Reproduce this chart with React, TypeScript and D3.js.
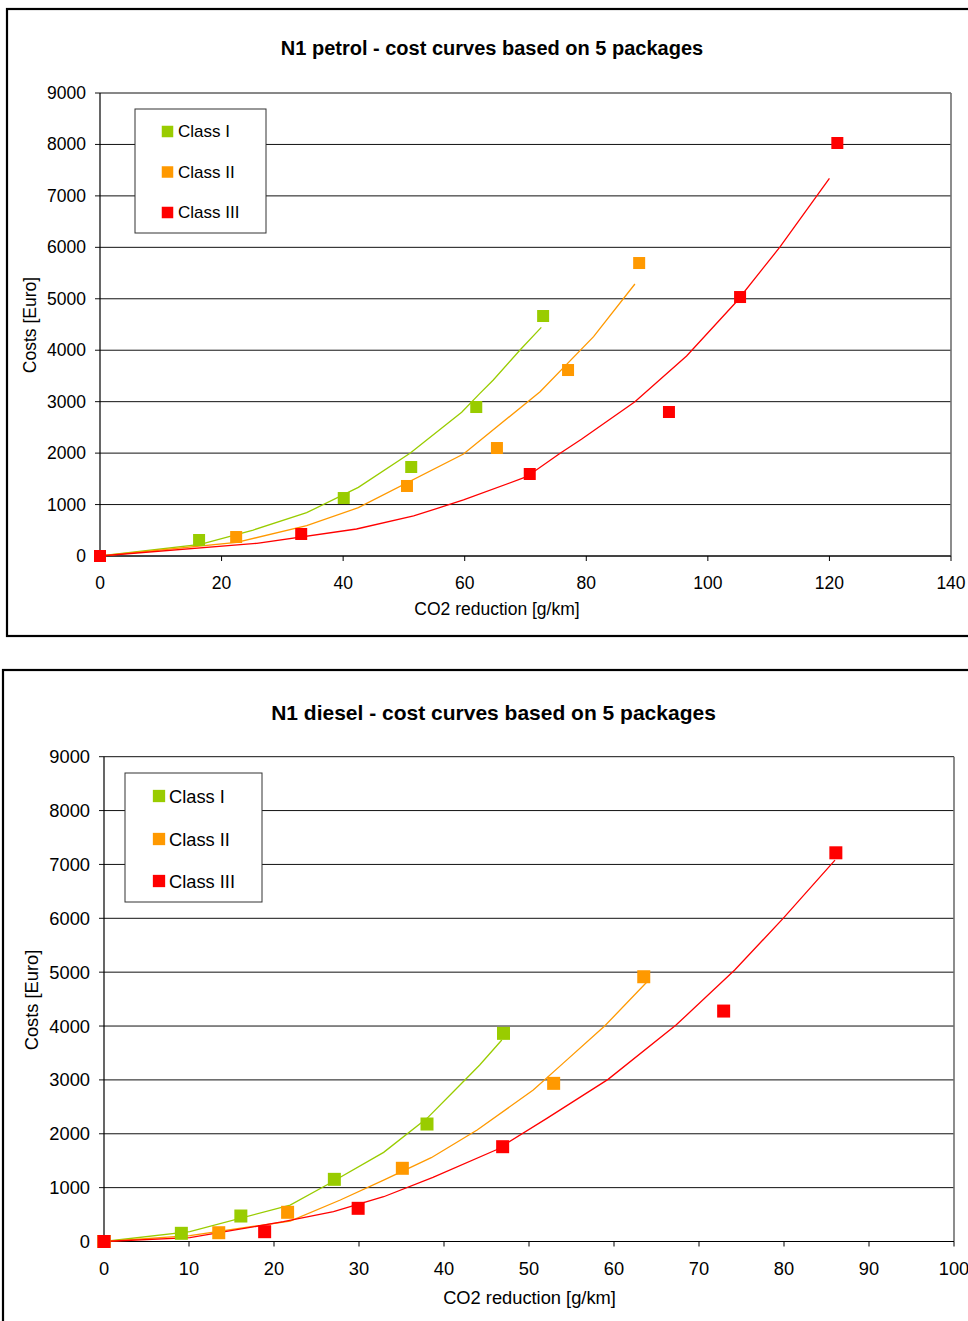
import React from "react";
import * as d3 from "d3";

// ---------- Data: N1 petrol ----------
const seriesNames = ["Class I", "Class II", "Class III"];
const seriesColors = ["#99CC00", "#FF9900", "#FF0000"];

const petrolClass1X = [0, 16.3, 40.1, 51.2, 61.9, 72.9];
const petrolClass1Y = [0, 311, 1127, 1730, 2896, 4665];
const petrolClass2X = [0, 22.4, 50.5, 65.3, 77.0, 88.7];
const petrolClass2Y = [0, 369, 1361, 2099, 3615, 5695];
const petrolClass3X = [0, 33.1, 70.7, 93.6, 105.3, 121.3];
const petrolClass3Y = [0, 428, 1594, 2799, 5034, 8028];

const petrolTrend1X = [0, 16.5, 25.2, 34.0, 42.5, 51.0, 59.5, 62.5, 64.7, 69.1, 72.6];
const petrolTrend1Y = [0, 227, 505, 842, 1335, 1996, 2793, 3162, 3421, 4004, 4445];
const petrolTrend2X = [0, 22.5, 34.0, 42.5, 59.8, 72.4, 81.2, 88.0];
const petrolTrend2Y = [0, 266, 589, 939, 1983, 3194, 4263, 5287];
const petrolTrend3X = [0, 25.8, 42.2, 51.6, 59.8, 70.2, 75.7, 79.2, 88.0, 96.5, 104.7, 111.9, 120.0];
const petrolTrend3Y = [0, 247, 525, 778, 1089, 1541, 1996, 2268, 2999, 3888, 4943, 6012, 7342];

// ---------- Data: N1 diesel ----------
const dieselClass1X = [0, 9.1, 16.1, 27.1, 38.0, 47.0];
const dieselClass1Y = [0, 152, 473, 1154, 2181, 3864];
const dieselClass2X = [0, 13.5, 21.6, 35.1, 52.9, 63.5];
const dieselClass2Y = [0, 163, 542, 1359, 2936, 4915];
const dieselClass3X = [0, 18.9, 29.9, 46.9, 72.9, 86.1];
const dieselClass3Y = [0, 182, 616, 1760, 4278, 7216];

const dieselTrend1X = [0, 10.1, 21.9, 26.2, 32.9, 38.0, 41.3, 44.2, 46.8];
const dieselTrend1Y = [0, 182, 677, 1049, 1655, 2286, 2812, 3276, 3740];
const dieselTrend2X = [0, 10.1, 21.9, 27.8, 32.9, 38.5, 43.9, 50.5, 54.0, 58.9, 63.9];
const dieselTrend2Y = [0, 108, 380, 770, 1141, 1556, 2069, 2812, 3307, 4000, 4822];
const dieselTrend3X = [0, 10.1, 21.1, 27.0, 32.9, 38.7, 46.1, 52.1, 59.3, 67.3, 74.2, 79.9, 86.0];
const dieselTrend3Y = [0, 71, 367, 553, 831, 1191, 1698, 2286, 3010, 4018, 5039, 5999, 7081];

const yTicks = [0, 1000, 2000, 3000, 4000, 5000, 6000, 7000, 8000, 9000];
const petrolXTicks = [0, 20, 40, 60, 80, 100, 120, 140];
const dieselXTicks = [0, 10, 20, 30, 40, 50, 60, 70, 80, 90, 100];

const FONT = "'Liberation Sans', Arial, Helvetica, sans-serif";

type Pt = [number, number];
const zip = (xs: number[], ys: number[]): Pt[] => xs.map((x, i) => [x, ys[i]]);

interface ChartProps {
  title: string;
  frame: { x: number; y: number; w: number; h: number };
  plot: { left: number; right: number; top: number; bottom: number };
  xMax: number;
  xTicks: number[];
  points: Pt[][];
  trends: Pt[][];
  titlePos: [number, number];
  titleSize: number;
  tickSize: number;
  labelSize: number;
  xLabelPos: [number, number];
  yLabelPos: [number, number];
  legend: { x: number; y: number; w: number; h: number; mx: number; tx: number; rows: number[]; ms: number; fs: number };
  markerSize: number;
}

function Chart(p: ChartProps) {
  const x = d3.scaleLinear().domain([0, p.xMax]).range([p.plot.left, p.plot.right]);
  const y = d3.scaleLinear().domain([0, 9000]).range([p.plot.bottom, p.plot.top]);
  const line = d3
    .line<Pt>()
    .x((d) => x(d[0]))
    .y((d) => y(d[1]));
  const ms = p.markerSize;
  return (
    <g>
      <rect x={p.frame.x} y={p.frame.y} width={p.frame.w} height={p.frame.h} fill="white" stroke="black" strokeWidth={2.2} />
      <text
        x={p.titlePos[0]}
        y={p.titlePos[1]}
        textAnchor="middle"
        dominantBaseline="central"
        fontFamily={FONT}
        fontWeight="bold"
        fontSize={p.titleSize}
      >
        {p.title}
      </text>
      {yTicks.map((t) => (
        <g key={"g" + t}>
          <line x1={p.plot.left - 5} x2={p.plot.right} y1={y(t)} y2={y(t)} stroke="#111" strokeWidth={1} />
          <text
            x={p.plot.left - 14}
            y={y(t)}
            textAnchor="end"
            dominantBaseline="central"
            fontFamily={FONT}
            fontSize={p.tickSize}
          >
            {t}
          </text>
        </g>
      ))}
      <line x1={p.plot.right} x2={p.plot.right} y1={p.plot.top} y2={p.plot.bottom} stroke="#707070" strokeWidth={1.6} />
      <line x1={p.plot.left} x2={p.plot.left} y1={p.plot.top} y2={p.plot.bottom} stroke="black" strokeWidth={1.2} />
      <line x1={p.plot.left} x2={p.plot.right} y1={p.plot.bottom} y2={p.plot.bottom} stroke="black" strokeWidth={1.2} />
      {p.xTicks.map((t) => (
        <g key={"x" + t}>
          <line x1={x(t)} x2={x(t)} y1={p.plot.bottom} y2={p.plot.bottom + 5} stroke="black" strokeWidth={1} />
          <text
            x={x(t)}
            y={p.plot.bottom + 27}
            textAnchor="middle"
            dominantBaseline="central"
            fontFamily={FONT}
            fontSize={p.tickSize}
          >
            {t}
          </text>
        </g>
      ))}
      <text
        x={p.xLabelPos[0]}
        y={p.xLabelPos[1]}
        textAnchor="middle"
        dominantBaseline="central"
        fontFamily={FONT}
        fontSize={p.labelSize}
      >
        CO2 reduction [g/km]
      </text>
      <text
        transform={`translate(${p.yLabelPos[0]},${p.yLabelPos[1]}) rotate(-90)`}
        textAnchor="middle"
        dominantBaseline="central"
        fontFamily={FONT}
        fontSize={p.labelSize}
      >
        Costs [Euro]
      </text>
      {p.trends.map((tr, i) => (
        <path key={"t" + i} d={line(tr) || ""} fill="none" stroke={seriesColors[i]} strokeWidth={1.3} />
      ))}
      {p.points.map((pts, i) =>
        pts.map((d, j) => (
          <rect
            key={"m" + i + "-" + j}
            x={x(d[0]) - ms / 2}
            y={y(d[1]) - ms / 2}
            width={ms}
            height={ms}
            fill={seriesColors[i]}
          />
        ))
      )}
      <rect x={p.legend.x} y={p.legend.y} width={p.legend.w} height={p.legend.h} fill="white" stroke="#333" strokeWidth={1} />
      {seriesNames.map((n, i) => (
        <g key={"l" + i}>
          <rect
            x={p.legend.mx - p.legend.ms / 2}
            y={p.legend.rows[i] - p.legend.ms / 2}
            width={p.legend.ms}
            height={p.legend.ms}
            fill={seriesColors[i]}
          />
          <text x={p.legend.tx} y={p.legend.rows[i]} dominantBaseline="central" fontFamily={FONT} fontSize={p.legend.fs}>
            {n}
          </text>
        </g>
      ))}
    </g>
  );
}

export default function App() {
  return (
    <svg
      width={968}
      height={1321}
      style={{ position: "absolute", left: 0, top: 0, background: "white" }}
    >
      <rect x={0} y={0} width={968} height={1321} fill="white" />
      <Chart
        title="N1 petrol - cost curves based on 5 packages"
        frame={{ x: 7, y: 9, w: 980, h: 627 }}
        plot={{ left: 100, right: 951, top: 93, bottom: 556 }}
        xMax={140}
        xTicks={petrolXTicks}
        points={[
          zip(petrolClass1X, petrolClass1Y),
          zip(petrolClass2X, petrolClass2Y),
          zip(petrolClass3X, petrolClass3Y),
        ]}
        trends={[
          zip(petrolTrend1X, petrolTrend1Y),
          zip(petrolTrend2X, petrolTrend2Y),
          zip(petrolTrend3X, petrolTrend3Y),
        ]}
        titlePos={[492, 48]}
        titleSize={20}
        tickSize={17.5}
        labelSize={17.5}
        xLabelPos={[497, 609]}
        yLabelPos={[30, 325]}
        legend={{ x: 135, y: 109, w: 131, h: 124, mx: 167.5, tx: 178, rows: [131.5, 172, 212.5], ms: 11.5, fs: 17 }}
        markerSize={12}
      />
      <Chart
        title="N1 diesel - cost curves based on 5 packages"
        frame={{ x: 3, y: 670, w: 990, h: 700 }}
        plot={{ left: 104, right: 954, top: 756.7, bottom: 1241.5 }}
        xMax={100}
        xTicks={dieselXTicks}
        points={[
          zip(dieselClass1X, dieselClass1Y),
          zip(dieselClass2X, dieselClass2Y),
          zip(dieselClass3X, dieselClass3Y),
        ]}
        trends={[
          zip(dieselTrend1X, dieselTrend1Y),
          zip(dieselTrend2X, dieselTrend2Y),
          zip(dieselTrend3X, dieselTrend3Y),
        ]}
        titlePos={[493.5, 712]}
        titleSize={21}
        tickSize={18.3}
        labelSize={18.3}
        xLabelPos={[529.5, 1297]}
        yLabelPos={[31, 1000]}
        legend={{ x: 125, y: 773, w: 137, h: 129, mx: 159, tx: 169, rows: [796, 839, 881], ms: 12.3, fs: 18.3 }}
        markerSize={13}
      />
    </svg>
  );
}
